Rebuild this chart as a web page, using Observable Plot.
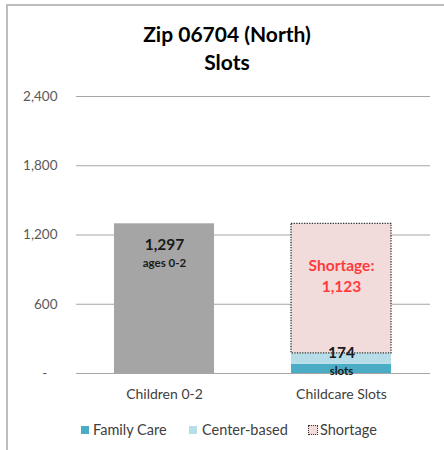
<!DOCTYPE html>
<html>
<head>
<meta charset="utf-8">
<script src="https://cdn.jsdelivr.net/npm/d3@7"></script>
<script src="https://cdn.jsdelivr.net/npm/@observablehq/plot@0.6"></script>
<style>
  body { margin: 0; background: #fff; font-family: Lato, "Open Sans", sans-serif; }
  #wrap { position: relative; width: 444px; height: 450px; overflow: hidden; }
  #frame { position: absolute; left: 6px; top: 4px; right: -4px; bottom: -4px;
           border-top: 2px solid #bdbdbd; border-left: 2px solid #bdbdbd; }
  #title { position: absolute; left: 8px; width: 438px; top: 20px; text-align: center;
           font-weight: bold; font-size: 21px; line-height: 28px; color: #000; }
  #chart { position: absolute; left: 0; top: 80px; }
  .leg { position: absolute; top: 420px; font-size: 14.5px; color: #404040; line-height: 19px; }
  .sw { position: absolute; top: 426px; width: 8px; height: 8px; box-sizing: border-box; }
</style>
</head>
<body>
<div id="wrap">
  <div id="frame"></div>
  <div id="title">Zip 06704 (North)<br>Slots</div>
  <div id="chart"></div>
  <div id="legend"></div>
</div>
<script>
const categories = ["Children 0-2", "Childcare Slots"];
const childrenValue = [1297];
const seriesNames = ["Family Care", "Center-based", "Shortage"];
const seriesValues = [80, 94, 1123];
const seriesColors = ["#4bacc6", "#b7dee8", "#f2dcdb"];
const yTicks = [0, 600, 1200, 1800, 2400];
const childLabel = ["1,297", "ages 0-2"];
const shortageLabel = ["Shortage:", "1,123"];
const slotsLabel = ["174", "slots"];

const childRows = [{cat: categories[0], value: childrenValue[0]}];
const slotRows = seriesNames.map((s, i) => ({cat: categories[1], series: s, value: seriesValues[i]}));
const slotTotal = d3.sum(seriesValues);
const supplied = seriesValues[0] + seriesValues[1];

const chart = Plot.plot({
  width: 444,
  height: 330,
  marginLeft: 76,
  marginRight: 14,
  marginTop: 16,
  marginBottom: 37,
  style: {fontFamily: "Lato, 'Open Sans', sans-serif", fontSize: "13.5px", color: "#595959", background: "transparent"},
  x: {domain: categories, paddingInner: 0.435, paddingOuter: 0.215, label: null},
  y: {domain: [0, 2400], label: null},
  color: {domain: seriesNames, range: seriesColors},
  marks: [
    Plot.ruleY(yTicks, {stroke: "#a6a6a6", strokeWidth: 1.2}),
    Plot.axisY({ticks: yTicks, tickSize: 0, tickPadding: 19, fontSize: 13.5,
      tickFormat: d => d === 0 ? "-\u2002\u00a0" : d3.format(",")(d), label: null, fill: "#595959"}),
    Plot.axisX({tickSize: 0, tickPadding: 16, fontSize: 14, label: null, fill: "#404040"}),
    Plot.barY(childRows, {x: "cat", y: "value", fill: "#a5a5a5"}),
    Plot.barY(slotRows, Plot.stackY({x: "cat", y: "value", fill: "series", order: seriesNames,
      stroke: d => d.series === "Shortage" ? "#333" : "none",
      strokeWidth: 1.3, strokeDasharray: "1.3,1.3"})),
    Plot.text(childRows, {x: "cat", y: "value", text: () => childLabel[0], dy: 21, fontSize: 15.5, fontWeight: "bold", fill: "#1a1a1a"}),
    Plot.text(childRows, {x: "cat", y: "value", text: () => childLabel[1], dy: 40, fontSize: 11.5, fontWeight: "bold", fill: "#1a1a1a"}),
    Plot.text([slotTotal], {x: () => categories[1], y: d => d, text: () => shortageLabel[0], dy: 42, fontSize: 15.5, fontWeight: "bold", fill: "#ff3b3b"}),
    Plot.text([slotTotal], {x: () => categories[1], y: d => d, text: () => shortageLabel[1], dy: 63, fontSize: 15.5, fontWeight: "bold", fill: "#ff3b3b"}),
    Plot.text([supplied], {x: () => categories[1], y: d => d, text: () => slotsLabel[0], dy: 0, fontSize: 15.5, fontWeight: "bold", fill: "#1a1a1a"}),
    Plot.text([supplied], {x: () => categories[1], y: d => d, text: () => slotsLabel[1], dy: 18, fontSize: 11.5, fontWeight: "bold", fill: "#1a1a1a"})
  ]
});
document.getElementById("chart").appendChild(chart);

// legend
const legend = document.getElementById("legend");
const swatchX = [81, 189, 308];
const textX = [93, 202, 320];
seriesNames.forEach((s, i) => {
  const sw = document.createElement("div");
  sw.className = "sw";
  sw.style.left = swatchX[i] + "px";
  sw.style.background = seriesColors[i];
  if (s === "Shortage") { sw.style.border = "1.3px dotted #333"; sw.style.width = "10px"; sw.style.height = "10px"; sw.style.top = "425px"; }
  legend.appendChild(sw);
  const t = document.createElement("div");
  t.className = "leg";
  t.style.left = textX[i] + "px";
  t.textContent = s;
  legend.appendChild(t);
});
</script>
</body>
</html>
